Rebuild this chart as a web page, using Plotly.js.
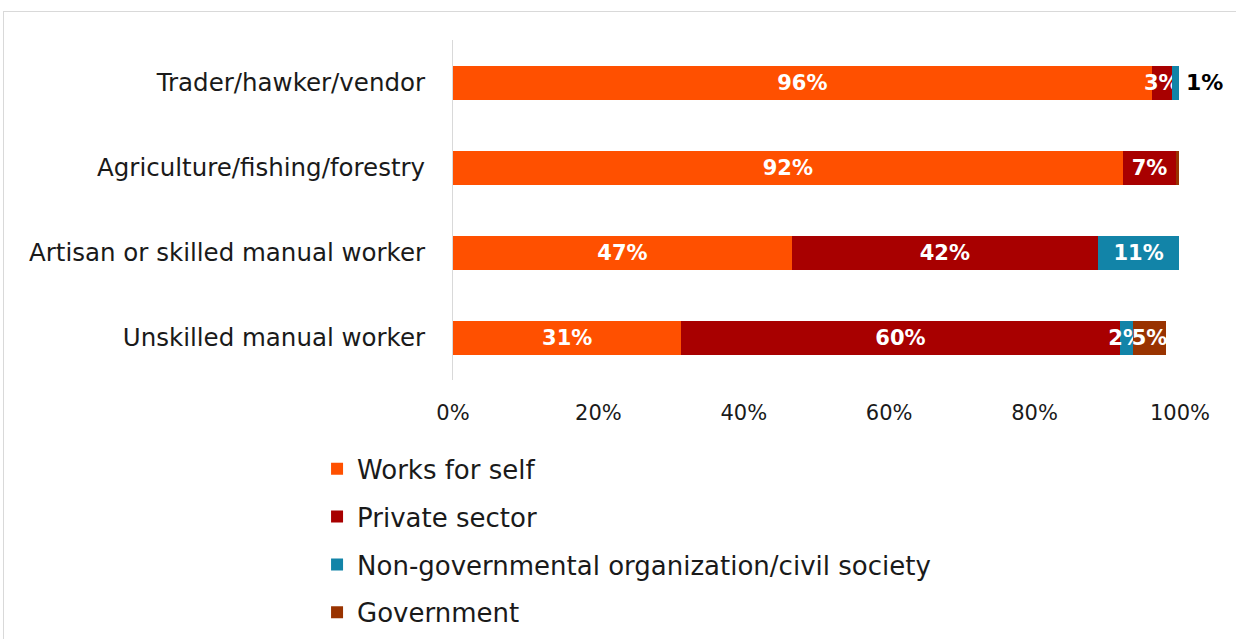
<!DOCTYPE html>
<html>
<head>
<meta charset="utf-8">
<script src="https://cdn.plot.ly/plotly-3.0.1.min.js"></script>
<style>
html,body{margin:0;padding:0;background:#fff;overflow:hidden;}
#frame{position:absolute;left:3px;top:11px;width:1260px;height:700px;border:1px solid #d9d9d9;box-sizing:border-box;pointer-events:none;}
#chart{position:absolute;left:0;top:0;width:1236px;height:639px;}
</style>
</head>
<body>
<div id="chart"></div>
<div id="frame"></div>
<script>
const categories = ["Trader/hawker/vendor", "Agriculture/fishing/forestry", "Artisan or skilled manual worker", "Unskilled manual worker"];
const seriesNames = ["Works for self", "Private sector", "Non-governmental organization/civil society", "Government"];
const worksForSelf = [96.1, 92.1, 46.6, 31.4];
const privateSector = [2.8, 7.4, 42.1, 60.3];
const ngo = [0.9, 0, 11.2, 1.8];
const government = [0, 0.3, 0, 4.6];
const colors = ["#FF5000", "#A80000", "#1284A8", "#993300"];

const series = [worksForSelf, privateSector, ngo, government];
const font = "'DejaVu Sans', sans-serif";

const traces = series.map((vals, i) => ({
  type: 'bar',
  orientation: 'h',
  name: seriesNames[i],
  legendgroup: 'g' + i,
  y: categories,
  x: vals,
  marker: {color: colors[i]},
  text: vals.map((v, j) => (v >= 1.5 ? Math.round(v) + '%' : '')),
  textposition: 'inside',
  insidetextanchor: 'middle',
  textangle: 0,
  constraintext: 'none',
  textfont: {family: font, size: 21, color: '#ffffff', weight: 'bold'},
  cliponaxis: false,
  hoverinfo: 'skip'
}));

// outside label for tiny segment
const annotations = [];
categories.forEach((c, j) => {
  series.forEach((vals, i) => {
    const v = vals[j];
    if (v > 0.5 && v < 1.5) {
      let total = 0;
      series.forEach(s => total += s[j]);
      annotations.push({
        x: total, y: c, xref: 'x', yref: 'y',
        text: '<b>' + Math.round(v) + '%</b>',
        showarrow: false, xanchor: 'left', xshift: 5,
        font: {family: font, size: 22, color: '#000000'}
      });
    }
  });
});

const layout = {
  width: 1236, height: 639,
  margin: {l: 453, r: 56, t: 40, b: 259, pad: 0},
  barmode: 'stack',
  bargap: 0.6,
  paper_bgcolor: '#ffffff',
  plot_bgcolor: '#ffffff',
  showlegend: true,
  xaxis: {
    range: [0, 100],
    tickvals: [0, 20, 40, 60, 80, 100],
    ticktext: ['0%', '20%', '40%', '60%', '80%', '100%'],
    showgrid: false, zeroline: false, showline: false,
    ticks: '', ticklen: 0, ticklabelstandoff: 18,
    automargin: false,
    tickfont: {family: font, size: 21, color: '#1a1a1a'}
  },
  yaxis: {
    categoryorder: 'array',
    categoryarray: categories,
    autorange: 'reversed',
    showgrid: false, zeroline: false,
    showline: true, linecolor: '#d9d9d9', linewidth: 1,
    ticks: '', ticklabelstandoff: 22,
    automargin: false,
    tickfont: {family: font, size: 24.5, color: '#1a1a1a'}
  },
  legend: {
    orientation: 'v',
    xref: 'paper', yref: 'container',
    x: -0.187, y: 0.303, xanchor: 'left', yanchor: 'top',
    traceorder: 'grouped',
    tracegroupgap: 11,
    font: {family: font, size: 26, color: '#1a1a1a'},
    itemwidth: 30
  },
  annotations: annotations
};

Plotly.newPlot('chart', traces, layout, {displayModeBar: false, staticPlot: true});
</script>
</body>
</html>
